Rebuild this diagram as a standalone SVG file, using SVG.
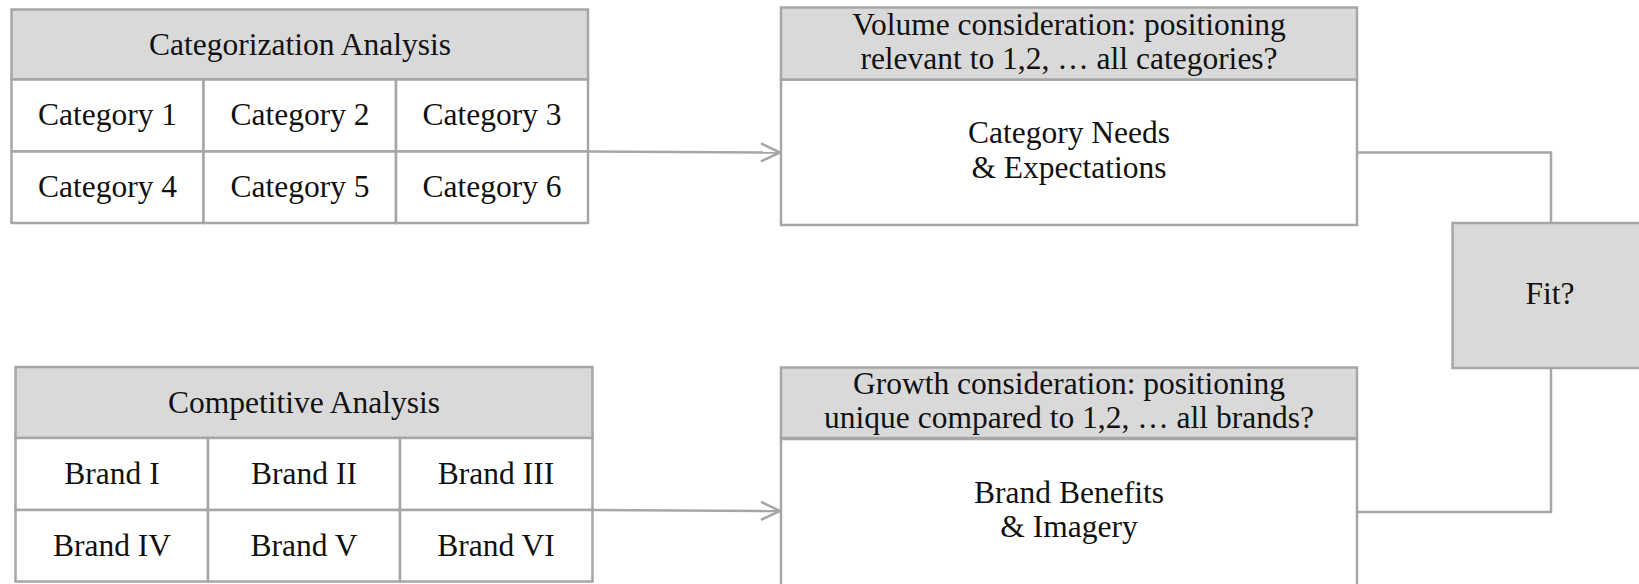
<svg xmlns="http://www.w3.org/2000/svg" width="1639" height="584" viewBox="0 0 1639 584">
<style>
.box{stroke:#a6a6a6;stroke-width:2.5;fill:#fff}
.hdr{stroke:#a6a6a6;stroke-width:2.5;fill:#d9d9d9}
.t{font-family:'Liberation Serif','DejaVu Serif',serif;font-size:31.5px;fill:#111;text-anchor:middle}
.c{stroke:#a6a6a6;stroke-width:2.5;fill:none}
</style>
<defs>
<marker id="arr" markerWidth="24" markerHeight="24" refX="20" refY="10" orient="auto" markerUnits="userSpaceOnUse">
<path d="M1,1 L20,10 L1,19" fill="none" stroke="#a6a6a6" stroke-width="2.5"/>
</marker>
</defs>
<rect width="1639" height="584" fill="#fff"/>
<g id="connectors">
<line class="c" x1="588" y1="151.5" x2="780" y2="152.5" marker-end="url(#arr)"/>
<line class="c" x1="592" y1="510" x2="780" y2="511" marker-end="url(#arr)"/>
<polyline class="c" points="1357,152.5 1551,152.5 1551,223"/>
<polyline class="c" points="1551,368 1551,512 1357,512"/>
</g>
<g id="categorization">
<rect class="hdr" x="11.5" y="9.5" width="576.5" height="70"/>
<rect class="box" x="11.5" y="79.5" width="192" height="72"/>
<rect class="box" x="203.5" y="79.5" width="192.5" height="72"/>
<rect class="box" x="396" y="79.5" width="192" height="72"/>
<rect class="box" x="11.5" y="151.5" width="192" height="71.5"/>
<rect class="box" x="203.5" y="151.5" width="192.5" height="71.5"/>
<rect class="box" x="396" y="151.5" width="192" height="71.5"/>
<text class="t" x="300" y="55">Categorization Analysis</text>
<text class="t" x="107.5" y="125">Category 1</text>
<text class="t" x="300" y="125">Category 2</text>
<text class="t" x="492" y="125">Category 3</text>
<text class="t" x="107.5" y="197">Category 4</text>
<text class="t" x="300" y="197">Category 5</text>
<text class="t" x="492" y="197">Category 6</text>
</g>
<g id="competitive">
<rect class="hdr" x="15.5" y="367" width="577" height="71"/>
<rect class="box" x="15.5" y="438" width="192.5" height="72"/>
<rect class="box" x="208" y="438" width="192" height="72"/>
<rect class="box" x="400" y="438" width="192.5" height="72"/>
<rect class="box" x="15.5" y="510" width="192.5" height="71.5"/>
<rect class="box" x="208" y="510" width="192" height="71.5"/>
<rect class="box" x="400" y="510" width="192.5" height="71.5"/>
<text class="t" x="304" y="413">Competitive Analysis</text>
<text class="t" x="112" y="484">Brand I</text>
<text class="t" x="304" y="484">Brand II</text>
<text class="t" x="496" y="484">Brand III</text>
<text class="t" x="112" y="556">Brand IV</text>
<text class="t" x="304" y="556">Brand V</text>
<text class="t" x="496" y="556">Brand VI</text>
</g>
<g id="volume">
<rect class="box" x="781" y="79.5" width="576" height="145.5"/>
<rect class="hdr" x="781" y="7.5" width="576" height="72"/>
<text class="t" x="1069" y="35">Volume consideration: positioning</text>
<text class="t" x="1069" y="69">relevant to 1,2, … all categories?</text>
<text class="t" x="1069" y="143">Category Needs</text>
<text class="t" x="1069" y="178">&amp; Expectations</text>
</g>
<g id="growth">
<rect class="box" x="781" y="438" width="576" height="160"/>
<rect class="hdr" x="781" y="367.5" width="576" height="71"/>
<line x1="781" y1="438.5" x2="1357" y2="438.5" stroke="#a6a6a6" stroke-width="3.5"/>
<text class="t" x="1069" y="394">Growth consideration: positioning</text>
<text class="t" x="1069" y="428">unique compared to 1,2, … all brands?</text>
<text class="t" x="1069" y="503">Brand Benefits</text>
<text class="t" x="1069" y="537">&amp; Imagery</text>
</g>
<g id="fit">
<rect class="hdr" x="1452.5" y="223" width="200" height="145"/>
<text class="t" x="1550" y="304">Fit?</text>
</g>
</svg>
